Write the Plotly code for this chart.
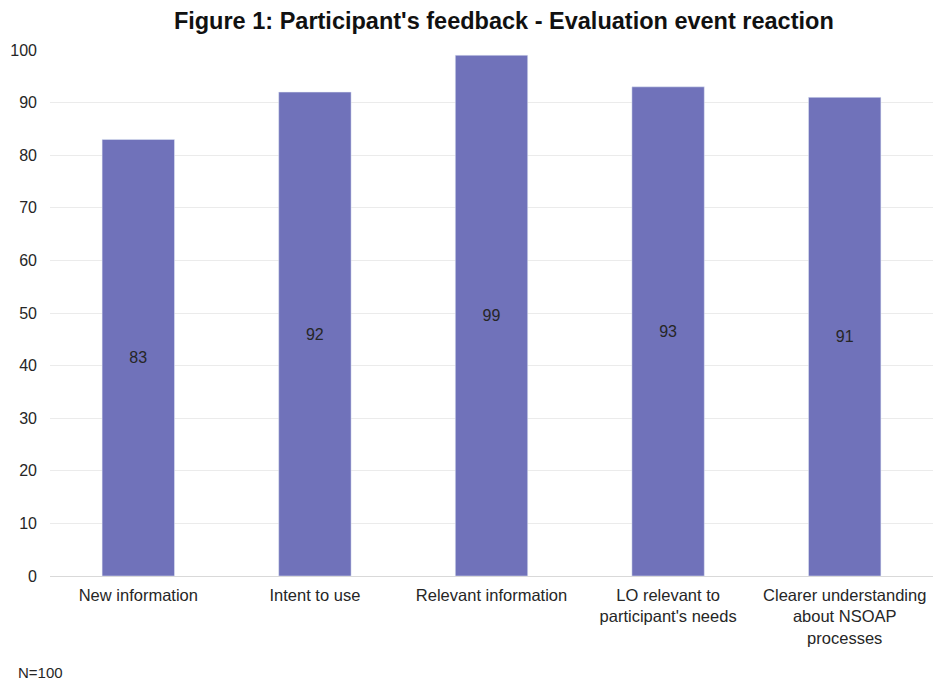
import plotly.graph_objects as go

categories = ["New information", "Intent to use", "Relevant information",
              "LO relevant to<br>participant's needs",
              "Clearer understanding<br>about NSOAP<br>processes"]
values = [83, 92, 99, 93, 91]
y_ticks = [0, 10, 20, 30, 40, 50, 60, 70, 80, 90, 100]

fig = go.Figure(go.Bar(
    x=categories, y=values,
    marker_color="#7072BA",
    text=values, textposition="inside", insidetextanchor="middle",
    textfont=dict(family="Liberation Sans, Arial", size=16, color="#262626"),
    textangle=0,
))

fig.update_layout(
    width=933, height=681,
    margin=dict(l=50, r=0, t=50, b=105),
    paper_bgcolor="white", plot_bgcolor="white",
    bargap=0.59,
    showlegend=False,
    title=dict(text="<b>Figure 1: Participant's feedback - Evaluation event reaction</b>",
               x=0.54, xanchor="center", y=0.97, yanchor="middle",
               font=dict(family="Liberation Sans, Arial", size=23.5, color="#111111")),
    font=dict(family="Liberation Sans, Arial", color="#404040"),
)
fig.update_yaxes(range=[0, 100], tickvals=y_ticks, showgrid=True, gridcolor="#EBEBEB",
                 gridwidth=1, zeroline=False, showline=False,
                 tickfont=dict(size=16, color="#262626"), ticks="", ticklen=0,
                 ticklabelstandoff=12)
fig.update_xaxes(showline=True, linecolor="#D9D9D9", linewidth=1, ticks="",
                 tickfont=dict(size=16.5, color="#262626"), ticklabelstandoff=4)

fig.add_annotation(text="N=100", x=-34/883, y=-(672-576)/526, xref="paper", yref="paper",
                   xanchor="left", yanchor="middle",
                   showarrow=False, font=dict(size=15, color="#262626"))

fig.write_html("out.html")
